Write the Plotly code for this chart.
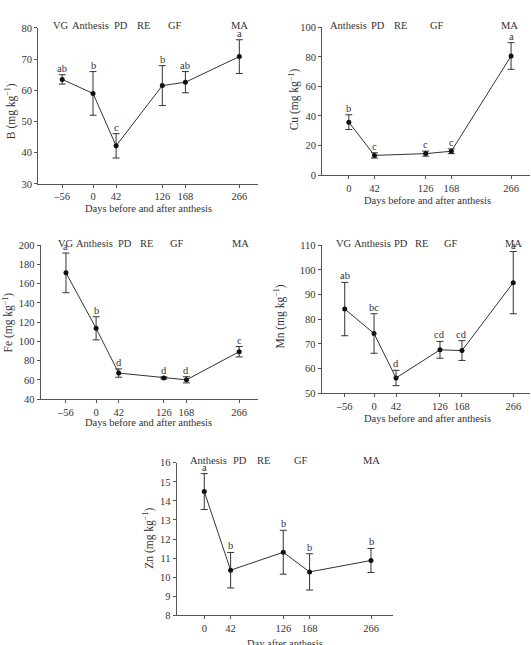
import plotly.graph_objects as go

# ---------------- data ----------------
days_full = [-56, 0, 42, 126, 168, 266]
days_post = [0, 42, 126, 168, 266]

b_mean = [63.5, 59.0, 42.2, 61.5, 62.6, 70.8]
b_err = [1.5, 7.0, 3.9, 6.4, 3.4, 5.4]
b_let = ["ab", "b", "c", "b", "ab", "a"]

cu_mean = [35.8, 13.3, 14.5, 16.1, 80.6]
cu_err = [5.0, 1.8, 1.7, 1.6, 9.0]
cu_let = ["b", "c", "c", "c", "a"]

fe_mean = [171.2, 113.6, 67.1, 62.1, 60.1, 89.3]
fe_err = [20.6, 12.0, 4.3, 1.0, 3.2, 5.4]
fe_let = ["a", "b", "d", "d", "d", "c"]

mn_mean = [84.1, 74.2, 56.2, 67.6, 67.3, 94.8]
mn_err = [10.8, 8.0, 3.1, 3.4, 4.0, 12.6]
mn_let = ["ab", "bc", "d", "cd", "cd", "a"]

zn_mean = [14.49, 10.37, 11.31, 10.28, 10.88]
zn_err = [0.94, 0.93, 1.15, 0.95, 0.63]
zn_let = ["a", "b", "b", "b", "b"]

stages_full = ["VG", "Anthesis", "PD", "RE", "GF", "MA"]
stages_post = ["Anthesis", "PD", "RE", "GF", "MA"]
# stage label positions in days
b_stage_x = [-58, -5, 51, 91, 149, 266]
cu_stage_x = [0, 47, 84, 144, 263]
fe_stage_x = [-56, -3, 54, 94, 150, 269]
mn_stage_x = [-58, -2, 52, 91, 147, 266]
zn_stage_x = [7, 57, 94, 154, 266]

W, H = 531, 645
FONT = "Liberation Serif"


def fx(px):
    return px / W


def fy(py):
    return 1 - py / H


panels = [
    dict(x=days_full, y=b_mean, e=b_err, let=b_let, st=stages_full, stx=b_stage_x,
         ylab="B (mg kg<sup>−1</sup>)", xlab="Days before and after anthesis",
         px=(38, 258), py=(23.3, 182), xr=[-100, 300], yr=[30, 80], yt=list(range(30, 81, 10)),
         ylpos=(10, 108), xlpos=(148, 207)),
    dict(x=days_post, y=cu_mean, e=cu_err, let=cu_let, st=stages_post, stx=cu_stage_x,
         ylab="Cu (mg kg<sup>−1</sup>)", xlab="Days before and after anthesis",
         px=(322, 530), py=(22.7, 173), xr=[-44, 297], yr=[0, 100], yt=list(range(0, 101, 20)),
         ylpos=(294, 96), xlpos=(427, 199)),
    dict(x=days_full, y=fe_mean, e=fe_err, let=fe_let, st=stages_full, stx=fe_stage_x,
         ylab="Fe (mg kg<sup>−1</sup>)", xlab="Days before and after anthesis",
         px=(40.7, 258), py=(244.3, 401), xr=[-103, 301], yr=[40, 200], yt=list(range(40, 201, 20)),
         ylpos=(8, 323), xlpos=(148, 425)),
    dict(x=days_full, y=mn_mean, e=mn_err, let=mn_let, st=stages_full, stx=mn_stage_x,
         ylab="Mn (mg kg<sup>−1</sup>)", xlab="Days before and after anthesis",
         px=(321.7, 530), py=(244.3, 395), xr=[-100, 298], yr=[50, 110], yt=list(range(50, 111, 10)),
         ylpos=(280, 317), xlpos=(427, 421)),
    dict(x=days_post, y=zn_mean, e=zn_err, let=zn_let, st=stages_post, stx=zn_stage_x,
         ylab="Zn (mg kg<sup>−1</sup>)", xlab="Day after anthesis",
         px=(176.7, 392.7), py=(465.7, 621), xr=[-44, 300.6], yr=[8, 16], yt=list(range(8, 17, 1)),
         ylpos=(149, 543), xlpos=(285, 650)),
]

fig = go.Figure()
annotations = []
layout = dict(
    width=W, height=H, margin=dict(l=0, r=0, t=0, b=0),
    paper_bgcolor="white", plot_bgcolor="white", showlegend=False,
    font=dict(family=FONT, size=10, color="#333"),
)

for i, p in enumerate(panels, start=1):
    xa = "x" if i == 1 else f"x{i}"
    ya = "y" if i == 1 else f"y{i}"
    fig.add_trace(go.Scatter(
        x=p["x"], y=p["y"], xaxis=xa, yaxis=ya, mode="lines+markers",
        line=dict(color="#333", width=1),
        marker=dict(color="#111", size=5, symbol="circle"),
        error_y=dict(type="data", array=p["e"], visible=True, color="#333", thickness=1, width=3.5),
        cliponaxis=False,
    ))
    axis_common = dict(showgrid=False, zeroline=False, showline=True, linecolor="#555", linewidth=1,
                       ticks="outside", ticklen=3, tickcolor="#555", tickwidth=1,
                       tickfont=dict(family=FONT, size=10.5, color="#333"))
    layout["xaxis" if i == 1 else f"xaxis{i}"] = dict(
        domain=[fx(p["px"][0]), fx(p["px"][1])], range=p["xr"], anchor=ya,
        tickmode="array", tickvals=p["x"], ticktext=[str(v).replace("-", "–") for v in p["x"]],
        **axis_common)
    layout["yaxis" if i == 1 else f"yaxis{i}"] = dict(
        domain=[fy(p["py"][1]), fy(p["py"][0])], range=p["yr"], anchor=xa,
        tickmode="array", tickvals=p["yt"], **axis_common)
    xref = xa
    yref = ya
    # significance letters
    for xv, yv, ev, lt in zip(p["x"], p["y"], p["e"], p["let"]):
        annotations.append(dict(x=xv, y=yv + ev, xref=xref, yref=yref, text=lt, showarrow=False,
                                yanchor="bottom", yshift=-1, font=dict(family=FONT, size=10.5, color="#333")))
    # stage labels
    for sx, st in zip(p["stx"], p["st"]):
        annotations.append(dict(x=sx, y=1, xref=xref, yref=f"{ya} domain", text=st, showarrow=False,
                                yanchor="middle", yshift=2, font=dict(family=FONT, size=10.5, color="#333")))
    # axis titles
    annotations.append(dict(x=fx(p["ylpos"][0]), y=fy(p["ylpos"][1]), xref="paper", yref="paper",
                            text=p["ylab"], textangle=-90, showarrow=False, xanchor="center",
                            yanchor="middle", font=dict(family=FONT, size=11.5, color="#333")))
    annotations.append(dict(x=fx(p["xlpos"][0]), y=fy(p["xlpos"][1]), xref="paper", yref="paper",
                            text=p["xlab"], showarrow=False, xanchor="center",
                            yanchor="middle", font=dict(family=FONT, size=10.5, color="#333")))

layout["annotations"] = annotations
fig.update_layout(**layout)
fig.write_html("out.html")
